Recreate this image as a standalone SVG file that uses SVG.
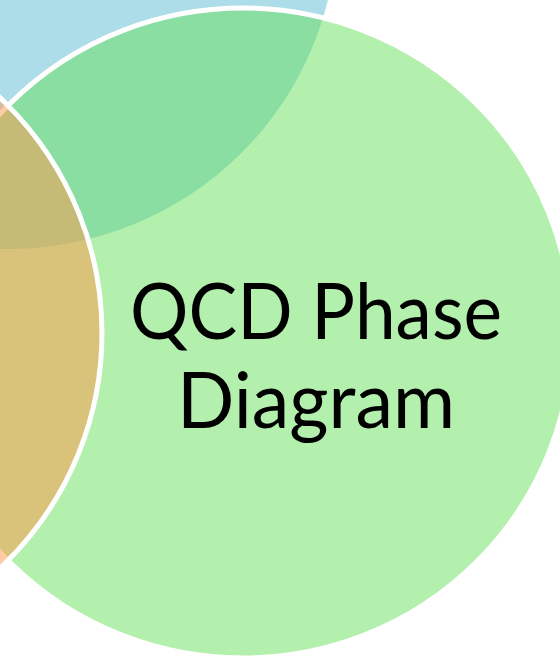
<svg xmlns="http://www.w3.org/2000/svg" width="560" height="657" viewBox="0 0 560 657">
  <style>
    .ring { stroke: #FFFFFF; stroke-width: 5; }
    .blue { fill: #ADDDE9; stroke: none; }
    .green { fill: #67DF5B; fill-opacity: 0.5; }
    .orange { fill: #FF9749; fill-opacity: 0.5; }
    .label { font-family: Lato, "Liberation Sans", sans-serif; font-size: 78px; fill: #000000; text-anchor: middle; }
  </style>
  <rect x="0" y="0" width="560" height="657" fill="#FFFFFF"/>
  <g id="node-blue">
    <ellipse class="blue" cx="8" cy="-76" rx="329" ry="325"/>
  </g>
  <g id="node-green">
    <ellipse class="green ring" cx="243" cy="333" rx="329" ry="325"/>
    <text class="label" x="316" y="339" textLength="372" lengthAdjust="spacingAndGlyphs">QCD Phase</text>
    <text class="label" x="316" y="428" textLength="278" lengthAdjust="spacingAndGlyphs">Diagram</text>
  </g>
  <g id="node-orange">
    <ellipse class="orange ring" cx="-227" cy="333" rx="329" ry="325"/>
  </g>
  <g id="connectors"/>
</svg>
